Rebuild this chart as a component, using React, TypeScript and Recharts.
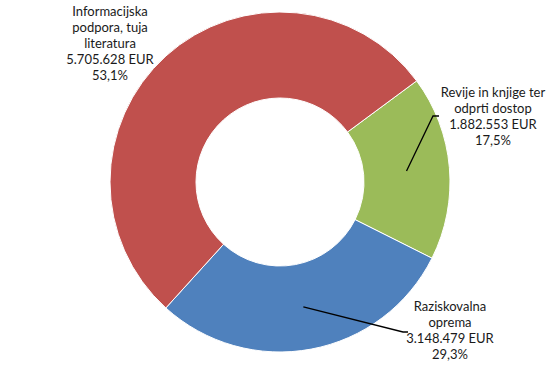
import { PieChart, Pie, Cell } from "recharts";

const categories = [
  "Revije in knjige ter odprti dostop",
  "Raziskovalna oprema",
  "Informacijska podpora, tuja literatura",
];
const amounts = [1882553, 3148479, 5705628];
const amountLabels = ["1.882.553 EUR", "3.148.479 EUR", "5.705.628 EUR"];
const percentLabels = ["17,5%", "29,3%", "53,1%"];
const nameLines = [
  ["Revije in knjige ter", "odprti dostop"],
  ["Raziskovalna", "oprema"],
  ["Informacijska", "podpora, tuja", "literatura"],
];

const colors = ["#9BBB59", "#4F81BD", "#C0504D"];

// where each label block sits (x centre, first baseline) and where its leader bends
const labelSpots = [
  { x: 493, y: 97, elbow: [433, 116, 439], leader: true },
  { x: 450, y: 311, elbow: [403, 332, 408], leader: true },
  { x: 110, y: 16, elbow: [0, 0, 0], leader: false },
];

const data = categories.map((name, i) => ({ name, value: amounts[i] }));

const RADIAN = Math.PI / 180;
const LINE_H = 16;

const renderLabel = (props: any) => {
  const { cx, cy, midAngle, innerRadius, outerRadius, index } = props;
  const spot = labelSpots[index];
  const lines = [...nameLines[index], amountLabels[index], percentLabels[index]];
  const r = (innerRadius + outerRadius) / 2;
  const sx = cx + r * Math.cos(-midAngle * RADIAN);
  const sy = cy + r * Math.sin(-midAngle * RADIAN);
  return (
    <g key={`lbl-${index}`}>
      {spot.leader && (
        <polyline
          points={`${sx},${sy} ${spot.elbow[0]},${spot.elbow[1]} ${spot.elbow[2]},${spot.elbow[1]}`}
          fill="none"
          stroke="#000"
          strokeWidth={1.3}
        />
      )}
      <text
        x={spot.x}
        y={spot.y}
        textAnchor="middle"
        fill="#1a1a1a"
        fontSize={13}
        fontFamily="Lato, 'Liberation Sans', sans-serif"
      >
        {lines.map((t, k) => (
          <tspan key={k} x={spot.x} y={spot.y + k * LINE_H}>
            {t}
          </tspan>
        ))}
      </text>
    </g>
  );
};

const App = () => {
  return (
    <div style={{ position: "absolute", left: 0, top: 0, background: "#fff" }}>
      <PieChart width={558} height={367} margin={{ top: 0, right: 0, bottom: 0, left: 0 }}>
        <Pie
          data={data}
          dataKey="value"
          nameKey="name"
          cx={280}
          cy={182}
          innerRadius={84}
          outerRadius={170}
          startAngle={36.5}
          endAngle={-323.5}
          stroke="#fff"
          strokeWidth={1}
          label={renderLabel}
          labelLine={false}
          isAnimationActive={false}
        >
          {data.map((d, i) => (
            <Cell key={d.name} fill={colors[i]} />
          ))}
        </Pie>
      </PieChart>
    </div>
  );
};

export default App;
